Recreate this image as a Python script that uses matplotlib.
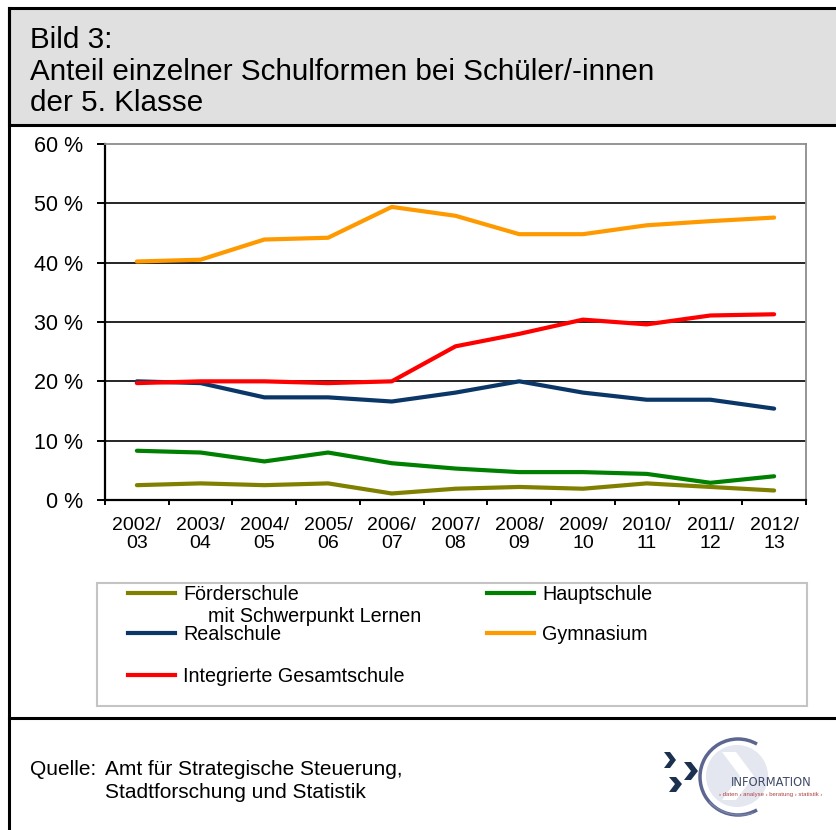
import matplotlib
matplotlib.use("Agg")
import matplotlib.pyplot as plt
from matplotlib.lines import Line2D
from matplotlib.patches import Rectangle, Circle, Arc, Polygon

plt.rcParams['font.family'] = ['Liberation Sans', 'DejaVu Sans']

# Daten (Anteil in %)
jahre = ["2002/\n03", "2003/\n04", "2004/\n05", "2005/\n06", "2006/\n07", "2007/\n08",
         "2008/\n09", "2009/\n10", "2010/\n11", "2011/\n12", "2012/\n13"]
foerderschule = [2.5, 2.8, 2.5, 2.8, 1.1, 1.9, 2.2, 1.9, 2.8, 2.2, 1.6]
hauptschule = [8.3, 8.0, 6.5, 8.0, 6.2, 5.3, 4.7, 4.7, 4.4, 2.9, 4.0]
realschule = [20.0, 19.7, 17.3, 17.3, 16.6, 18.1, 20.0, 18.1, 16.9, 16.9, 15.4]
gymnasium = [40.2, 40.5, 43.9, 44.2, 49.4, 47.9, 44.8, 44.8, 46.3, 47.0, 47.6]
gesamtschule = [19.7, 20.0, 20.0, 19.7, 20.0, 25.9, 28.0, 30.4, 29.6, 31.1, 31.3]

namen = ["Förderschule", "Hauptschule", "Realschule", "Gymnasium", "Integrierte Gesamtschule"]
farben = ["#808000", "#008000", "#0b3768", "#ff9900", "#ff0000"]
werte = [foerderschule, hauptschule, realschule, gymnasium, gesamtschule]
y_ticks = [0, 10, 20, 30, 40, 50, 60]

W, H = 836, 830
fig = plt.figure(figsize=(W / 100, H / 100), dpi=100)


def fx(x):
    return x / W


def fy(y):
    return 1 - y / H


def hline(x0, x1, y, **kw):
    fig.add_artist(Line2D([fx(x0), fx(x1)], [fy(y), fy(y)], transform=fig.transFigure, **kw))


def vline(x, y0, y1, **kw):
    fig.add_artist(Line2D([fx(x), fx(x)], [fy(y0), fy(y1)], transform=fig.transFigure, **kw))


# Rahmen und Titelkasten
fig.add_artist(Rectangle((fx(9), fy(125)), fx(W + 10), (125 - 8) / H, transform=fig.transFigure,
                         facecolor="#e0e0e0", edgecolor="black", lw=2.2))
vline(9, 8, H + 5, color="black", lw=2.2)
hline(9, W + 5, 718, color="black", lw=2.2)

fig.text(fx(30), fy(48.5), "Bild 3:", fontsize=21.3, va="baseline")
fig.text(fx(30), fy(79.5), "Anteil einzelner Schulformen bei Schüler/-innen", fontsize=21.3, va="baseline")
fig.text(fx(30), fy(110.5), "der 5. Klasse", fontsize=21.3, va="baseline")

# Diagramm
ax = fig.add_axes([fx(105), fy(500), (806 - 105) / W, (500 - 144) / H])
x = list(range(len(jahre)))
for name, farbe, w in zip(namen, farben, werte):
    ax.plot(x, w, color=farbe, lw=3, solid_capstyle="round", zorder=3)

ax.set_xlim(-0.5, len(jahre) - 0.5)
ax.set_ylim(0, 60)
ax.set_yticks(y_ticks)
ax.set_yticklabels([f"{t} %" for t in y_ticks], fontsize=15.5)
for t in y_ticks[1:-1]:
    ax.axhline(t, color="black", lw=1.2, zorder=1)
ax.set_xticks(x)
ax.set_xticklabels(jahre, fontsize=14, linespacing=1.1)
ax.set_xticks([i - 0.5 for i in range(len(jahre) + 1)], minor=True)
ax.tick_params(axis="x", which="major", length=0, pad=12)
ax.tick_params(axis="x", which="minor", length=3.5, width=1.4, direction="out")
ax.tick_params(axis="y", length=5.5, width=1.4, direction="out", pad=10)
for s in ["left", "bottom"]:
    ax.spines[s].set_linewidth(1.6)
    ax.spines[s].set_color("black")
for s in ["top", "right"]:
    ax.spines[s].set_linewidth(1.3)
    ax.spines[s].set_color("#8c8c8c")

# Legende
fig.add_artist(Rectangle((fx(97), fy(706)), (807 - 97) / W, (706 - 583) / H, transform=fig.transFigure,
                         facecolor="white", edgecolor="#c4c4c4", lw=1.5))
pos = [(128, 593), (487, 593), (128, 633), (487, 633), (128, 675)]
for (lx, ly), name, farbe in zip(pos, namen, farben):
    hline(lx, lx + 47, ly, color=farbe, lw=3)
    fig.text(fx(lx + 55), fy(ly + 7), name, fontsize=14.2, va="baseline")
fig.text(fx(208), fy(622), "mit Schwerpunkt Lernen", fontsize=14.2, va="baseline")

# Quelle
fig.text(fx(30), fy(775), "Quelle:", fontsize=15, va="baseline")
fig.text(fx(105), fy(775), "Amt für Strategische Steuerung,", fontsize=15, va="baseline")
fig.text(fx(105), fy(798), "Stadtforschung und Statistik", fontsize=15, va="baseline")

# Logo (vereinfacht)
lax = fig.add_axes([fx(655), fy(828), 180 / W, 100 / H])
lax.set_xlim(655, 835)
lax.set_ylim(828, 728)
lax.set_aspect("equal")
lax.axis("off")
lax.add_patch(Circle((737, 776), 31, facecolor="#e4e6f0", edgecolor="none"))
lax.add_patch(Polygon([[722, 752], [736, 752], [754, 776], [736, 800], [722, 800], [740, 776]],
                      facecolor="white", edgecolor="none"))
lax.add_patch(Arc((738, 777), 76, 76, theta1=60, theta2=300, color="#5c6690", lw=2.5))
lax.add_patch(Arc((740, 776), 82, 78, theta1=70, theta2=140, color="#7a84aa", lw=1))
for pts in ([[664, 752], [670, 752], [676, 760], [670, 768], [664, 768], [670, 760]],
            [[684, 762], [691, 762], [698, 771], [691, 780], [684, 780], [691, 771]],
            [[669, 777], [676, 777], [682, 784], [676, 792], [669, 792], [675, 784]]):
    lax.add_patch(Polygon(pts, facecolor="#1c3050", edgecolor="none"))
lax.text(771, 786, "INFORMATION", fontsize=8.3, color="#404a66", ha="center", va="baseline",
         family=["DejaVu Sans"])
lax.text(771, 796, "› daten › analyse › beratung › statistik ›", fontsize=4.3, color="#b04040",
         ha="center", va="baseline")

fig.savefig("out.png", dpi=100)
